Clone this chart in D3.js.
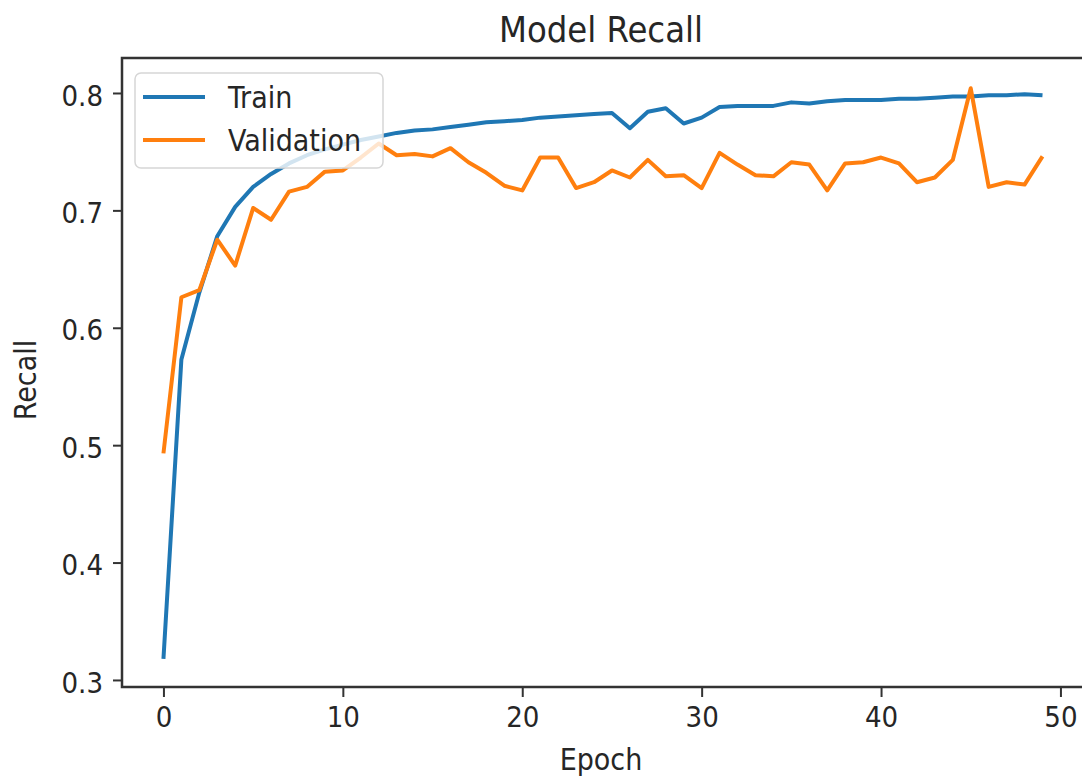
<!DOCTYPE html>
<html>
<head>
	<title>Model Recall</title>
	<script type="text/javascript" src="https://d3js.org/d3.v7.min.js"></script>
	<style>
		body{ margin: 0; background: white; }
		.chart text{
			font-family: "DejaVu Sans Condensed", "DejaVu Sans", sans-serif;
			fill: #262626;
		}
		.axis path{ display: none; }
		.axis line{ stroke: #333; stroke-width: 2; }
		.axis text{ font-size: 29px; }
	</style>
</head>
<body>
<svg class="chart"></svg>

<script type="text/javascript">
	// Recall per epoch
	var epochs = d3.range(50);
	var train = [0.318, 0.573, 0.630, 0.678, 0.703, 0.720, 0.731, 0.740, 0.747, 0.752,
		0.756, 0.760, 0.763, 0.766, 0.768, 0.769, 0.771, 0.773, 0.775, 0.776,
		0.777, 0.779, 0.780, 0.781, 0.782, 0.783, 0.770, 0.784, 0.787, 0.774,
		0.779, 0.788, 0.789, 0.789, 0.789, 0.792, 0.791, 0.793, 0.794, 0.794,
		0.794, 0.795, 0.795, 0.796, 0.797, 0.797, 0.798, 0.798, 0.799, 0.798];
	var validation = [0.493, 0.626, 0.632, 0.675, 0.653, 0.702, 0.692, 0.716, 0.720, 0.733,
		0.734, 0.745, 0.757, 0.747, 0.748, 0.746, 0.753, 0.741, 0.732, 0.721,
		0.717, 0.745, 0.745, 0.719, 0.724, 0.734, 0.728, 0.743, 0.729, 0.730,
		0.719, 0.749, 0.739, 0.730, 0.729, 0.741, 0.739, 0.717, 0.740, 0.741,
		0.745, 0.740, 0.724, 0.728, 0.743, 0.804, 0.720, 0.724, 0.722, 0.746];
	var xTicks = [0, 10, 20, 30, 40, 50];
	var yTicks = [0.3, 0.4, 0.5, 0.6, 0.7, 0.8];
	var seriesNames = ["Train", "Validation"];
	var colors = ["#1f77b4", "#ff7f0e"];

	var width = 1082, height = 780;
	var plotLeft = 122, plotTop = 58, plotBottom = 687;

	// x domain padded like matplotlib, right spine falls just off the picture
	var x = d3.scaleLinear()
		.domain([-2.31, 51.45])
		.range([plotLeft, plotLeft + 53.76 * 17.94]);
	var y = d3.scaleLinear()
		.domain([0.294, 0.8298])
		.range([plotBottom, plotTop]);

	var chart = d3.select(".chart")
		.attr("width", width)
		.attr("height", height);

	// x axis
	chart.append("g")
		.attr("class", "axis")
		.attr("transform", "translate(0," + plotBottom + ")")
		.call(d3.axisBottom(x).tickValues(xTicks).tickSize(10).tickPadding(8).tickFormat(d3.format("d")))
		.selectAll("text").attr("dy", "0.75em");

	// y axis
	chart.append("g")
		.attr("class", "axis")
		.attr("transform", "translate(" + plotLeft + ",0)")
		.call(d3.axisLeft(y).tickValues(yTicks).tickSize(9).tickPadding(10).tickFormat(d3.format(".1f")))
		.selectAll("text").attr("dy", "0.42em");

	// lines
	var line = d3.line()
		.x(function(d, i){ return x(epochs[i]); })
		.y(function(d){ return y(d); });

	[train, validation].forEach(function(s, i){
		chart.append("path")
			.attr("d", line(s))
			.attr("fill", "none")
			.attr("stroke", colors[i])
			.attr("stroke-width", 4)
			.attr("stroke-linejoin", "round");
	});

	// spines (frame of the axes)
	chart.append("rect")
		.attr("x", x.range()[0])
		.attr("y", plotTop)
		.attr("width", x.range()[1] - x.range()[0])
		.attr("height", plotBottom - plotTop)
		.attr("fill", "none")
		.attr("stroke", "#333")
		.attr("stroke-width", 2.5);

	// legend, upper left
	var legend = chart.append("g").attr("transform", "translate(135,73)");
	legend.append("rect")
		.attr("width", 248)
		.attr("height", 95)
		.attr("rx", 6)
		.attr("fill", "white")
		.attr("fill-opacity", 0.8)
		.attr("stroke", "#d6d6d6")
		.attr("stroke-width", 1.5);

	var item = legend.selectAll("g.item")
		.data(seriesNames)
	  .enter().append("g")
		.attr("class", "item")
		.attr("transform", function(d, i){ return "translate(0," + (24 + i * 43) + ")"; });

	item.append("line")
		.attr("x1", 8).attr("x2", 70)
		.attr("stroke", function(d, i){ return colors[i]; })
		.attr("stroke-width", 4);

	item.append("text")
		.attr("x", 93)
		.attr("dy", "0.36em")
		.style("font-size", "30px")
		.text(function(d){ return d; });

	// title and axis labels
	chart.append("text")
		.attr("x", 601).attr("y", 42)
		.attr("text-anchor", "middle")
		.style("font-size", "36px")
		.text("Model Recall");

	chart.append("text")
		.attr("x", 601).attr("y", 770)
		.attr("text-anchor", "middle")
		.style("font-size", "30px")
		.text("Epoch");

	chart.append("text")
		.attr("transform", "translate(36,380) rotate(-90)")
		.attr("text-anchor", "middle")
		.style("font-size", "30px")
		.text("Recall");
</script>
</body>
</html>
